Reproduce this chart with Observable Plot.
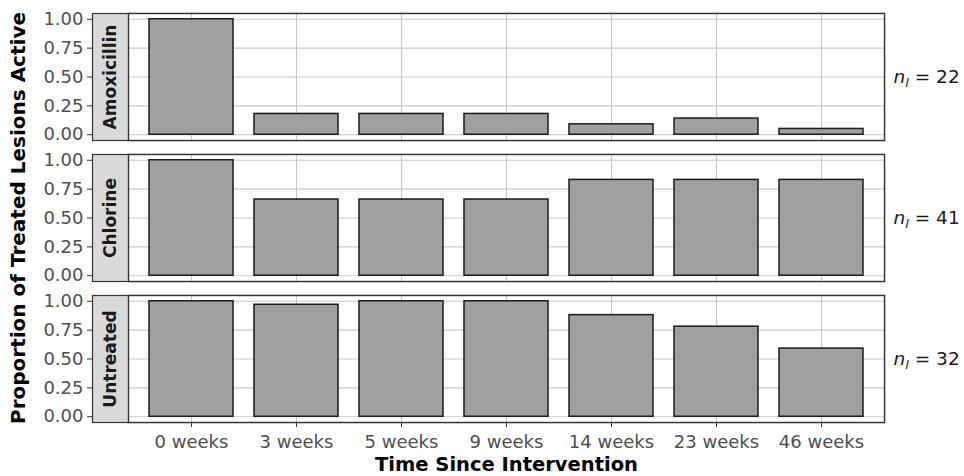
<!DOCTYPE html>
<html>
<head>
<meta charset="utf-8">
<script src="https://cdn.jsdelivr.net/npm/d3@7"></script>
<script src="https://cdn.jsdelivr.net/npm/@observablehq/plot@0.6"></script>
<style>
  html, body { margin: 0; padding: 0; background: white; }
  #chart svg { display: block; }
</style>
</head>
<body>
<div id="chart"></div>
<script>
// ---- data ----
const weeks = ["0 weeks", "3 weeks", "5 weeks", "9 weeks", "14 weeks", "23 weeks", "46 weeks"];
const treatments = ["Amoxicillin", "Chlorine", "Untreated"];
const amoxicillin = [1.00, 0.18, 0.18, 0.18, 0.09, 0.14, 0.05];
const chlorine    = [1.00, 0.66, 0.66, 0.66, 0.83, 0.83, 0.83];
const untreated   = [1.00, 0.97, 1.00, 1.00, 0.88, 0.78, 0.59];
const lesionCounts = [22, 41, 32];
const yTicks = [0, 0.25, 0.5, 0.75, 1];
const yTitle = "Proportion of Treated Lesions Active";
const xTitle = "Time Since Intervention";

// ---- tables built from the arrays ----
const seriesByTreatment = [amoxicillin, chlorine, untreated];
const bars = treatments.flatMap((t, i) =>
  weeks.map((w, j) => ({treatment: t, week: w, value: seriesByTreatment[i][j]}))
);
const counts = treatments.map((t, i) => ({treatment: t, n: lesionCounts[i]}));

const font = "DejaVu Sans";

const chart = Plot.plot({
  width: 964,
  height: 476,
  marginLeft: 128,
  marginRight: 80,
  marginTop: 13,
  marginBottom: 54,
  style: {fontFamily: font, background: "white", overflow: "visible"},
  x: {domain: weeks, padding: 0.2, label: null},
  y: {domain: [-0.05, 1.05], label: null},
  fy: {domain: treatments, paddingInner: 0.1, paddingOuter: 0, axis: null, label: null},
  marks: [
    // strip + panel background
    Plot.frame({fill: "#d9d9d9", stroke: "#333333", strokeWidth: 1.2, insetLeft: -36}),
    Plot.frame({fill: "white"}),
    Plot.gridY(yTicks, {stroke: "#c8c8c8", strokeOpacity: 1, strokeWidth: 1.2}),
    Plot.gridX(weeks, {stroke: "#c8c8c8", strokeOpacity: 1, strokeWidth: 1.2}),
    Plot.barY(bars, {
      x: "week", y: "value", fy: "treatment",
      fill: "#a0a0a0", stroke: "#1a1a1a", strokeWidth: 1.5
    }),
    Plot.frame({stroke: "#333333", strokeWidth: 1.4}),
    Plot.axisY(yTicks, {
      dx: -36, tickSize: 5, tickPadding: 4,
      tickFormat: d => d.toFixed(2),
      fontSize: 18, color: "#4d4d4d", stroke: "#333333", label: null
    }),
    Plot.axisX({
      tickSize: 5, tickPadding: 8,
      fontSize: 18, color: "#4d4d4d", stroke: "#333333", label: null
    }),
    // strip labels
    Plot.text(treatments, {
      fy: d => d, text: d => d, frameAnchor: "left", dx: -18, rotate: -90,
      textAnchor: "middle", lineAnchor: "middle",
      fontWeight: "bold", fontSize: 17, fill: "#1a1a1a"
    }),
    // y title in middle facet
    Plot.text([{treatment: treatments[1], label: yTitle}], {
      fy: "treatment", text: "label", frameAnchor: "left", dx: -110, rotate: -90,
      textAnchor: "middle", lineAnchor: "middle",
      fontWeight: "bold", fontSize: 20, fill: "black"
    }),
    // x title under bottom facet
    Plot.text([{treatment: treatments[2], label: xTitle}], {
      fy: "treatment", text: "label", frameAnchor: "bottom", dy: 35, lineAnchor: "top",
      textAnchor: "middle",
      fontWeight: "bold", fontSize: 19.5, fill: "black"
    }),
    // lesion counts on the right
    Plot.text(counts, {
      fy: "treatment", text: d => `n = ${d.n}`, frameAnchor: "right", dx: 9,
      textAnchor: "start", lineAnchor: "middle", fontSize: 18.5, fill: "#1a1a1a"
    })
  ]
});

document.getElementById("chart").appendChild(chart);

// turn "n = 22" into italic n with italic subscript l
const ns = "http://www.w3.org/2000/svg";
chart.querySelectorAll("text").forEach(t => {
  const m = /^n = (\d+)$/.exec(t.textContent.trim());
  if (!m) return;
  while (t.firstChild) t.removeChild(t.firstChild);
  const a = document.createElementNS(ns, "tspan");
  a.setAttribute("font-style", "italic");
  a.textContent = "n";
  const b = document.createElementNS(ns, "tspan");
  b.setAttribute("font-style", "italic");
  b.setAttribute("font-size", "0.7em");
  b.setAttribute("dy", "0.35em");
  b.textContent = "l";
  const c = document.createElementNS(ns, "tspan");
  c.setAttribute("dy", "-0.245em");
  c.textContent = " = " + m[1];
  t.append(a, b, c);
});
</script>
</body>
</html>
